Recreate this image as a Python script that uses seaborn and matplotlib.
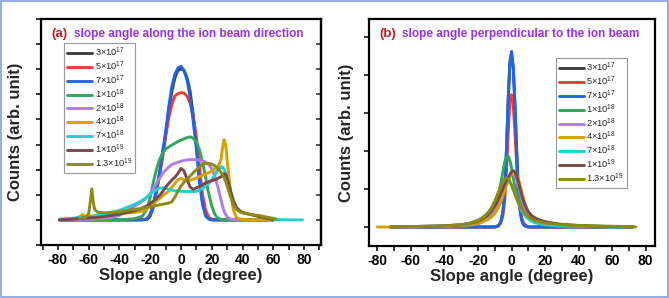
import numpy as np
import pandas as pd
import matplotlib
matplotlib.use("Agg")
import matplotlib.pyplot as plt
import seaborn as sns
from matplotlib.patches import Rectangle
from matplotlib.ticker import MultipleLocator

N = np.nan

labels = ['3×10$^{17}$', '5×10$^{17}$', '7×10$^{17}$', '1×10$^{18}$', '2×10$^{18}$',
          '4×10$^{18}$', '7×10$^{18}$', '1×10$^{19}$', '1.3×10$^{19}$']
colors = ['#404040', '#ee3b3b', '#1f66e0', '#33a65a', '#b07ce8',
          '#d9a000', '#22d0d0', '#7a4a4a', '#8d8b12']

# ---------------- panel (a): along the ion beam direction ----------------
xa = [-79, -70, -66, -64, -62,
      -60, -59, -58, -57, -56,
      -54, -50, -45, -40, -35,
      -30, -25, -22, -20, -18,
      -16, -14, -12, -10, -8,
      -6, -4, -2, 0, 2,
      4, 6, 8, 10, 12,
      14, 16, 18, 20, 22,
      24, 26, 27, 28, 29,
      30, 31, 32, 34, 36,
      38, 40, 45, 50, 55,
      60, 62, 70, 79]

a_3e17 = [0, 0, 0, 0, 0,  0, 0, 0, 0, 0,  0, 0, 0, 0, 0,
          0, 0.01, 0.02, 0.15, 0.5,  1.1, 1.8, 2.6, 3.4, 4.3,
          5.1, 5.65, 5.95, 6.02, 5.95,  5.65, 5.1, 4.15, 3.0, 1.7,
          0.7, 0.2, 0.05, 0, 0,  0, 0, 0, 0, 0,  0, 0, 0, 0, 0,
          0, 0, 0, 0, 0,  0, N, N, N]
a_5e17 = [0, 0, 0, 0, 0,  0, 0, 0, 0, 0,  0, 0, 0, 0, 0,
          0, 0.01, 0.05, 0.25, 0.6,  1.2, 1.75, 2.45, 3.3, 4.05,
          4.6, 4.93, 5.03, 5.07, 5.05,  4.92, 4.65, 4.1, 3.3, 2.15,
          1.0, 0.4, 0.1, 0.03, 0,  0, 0, 0, 0, 0,  0, 0, 0, 0, 0,
          0, 0, 0, 0, 0,  0, N, N, N]
a_7e17 = [0, 0, 0, 0, 0,  0, 0, 0, 0, 0,  0, 0, 0, 0, 0,
          0, 0, 0.03, 0.2, 0.6,  1.2, 1.9, 2.7, 3.5, 4.5,
          5.3, 5.8, 6.05, 6.12, 5.95,  5.55, 4.85, 3.9, 2.8, 1.5,
          0.6, 0.15, 0.03, 0, 0,  0, 0, 0, 0, 0,  0, 0, 0, 0, 0,
          0, 0, 0, 0, 0,  0, N, N, N]
a_1e18 = [0, 0, 0, 0, 0,  0, 0, 0, 0, 0,  0, 0, 0, 0.01, 0.02,
          0.05, 0.15, 0.45, 0.9, 1.5,  2.0, 2.4, 2.65, 2.82, 2.9,
          2.98, 3.05, 3.12, 3.18, 3.23,  3.28, 3.31, 3.25, 3.1, 2.8,
          2.3, 1.7, 1.05, 0.55, 0.22,  0.07, 0.02, 0, 0, 0,  0, 0, 0, 0, 0,
          0, 0, 0, 0, 0,  0, N, N, N]
a_2e18 = [0, 0.01, 0.01, 0.02, 0.02,  0.03, 0.03, 0.03, 0.03, 0.04,
          0.05, 0.06, 0.1, 0.18, 0.35,  0.55, 0.75, 0.9, 1.05, 1.25,
          1.45, 1.65, 1.85, 1.98, 2.1,  2.2, 2.25, 2.3, 2.34, 2.37,
          2.39, 2.4, 2.4, 2.4, 2.38,  2.35, 2.3, 2.2, 2.05, 1.75,
          1.3, 0.8, 0.55, 0.35, 0.22,  0.12, 0.07, 0.04, 0.02, 0,
          0, 0, 0, 0, 0,  0, N, N, N]
a_4e18 = [N, 0.03, 0.12, 0.22, 0.12,  0.15, 0.15, 0.16, 0.16, 0.17,
          0.18, 0.2, 0.22, 0.25, 0.28,  0.3, 0.35, 0.45, 0.55, 0.65,
          0.75, 0.85, 0.95, 1.05, 1.15,  1.3, 1.45, 1.6, 1.65, 1.6,
          1.55, 1.58, 1.62, 1.67, 1.72,  1.78, 1.83, 1.88, 1.95, 2.03,
          2.12, 2.4, 2.9, 3.2, 3.0,  2.4, 1.8, 1.25, 0.4, 0.1,
          0.04, 0.02, 0, 0, 0,  0, N, N, N]
a_7e18 = [0.03, 0.07, 0.1, 0.11, 0.12,  0.13, 0.13, 0.14, 0.14, 0.15,
          0.17, 0.22, 0.3, 0.38, 0.5,  0.62, 0.78, 0.92, 1.02, 1.12,
          1.2, 1.27, 1.28, 1.25, 1.22,  1.18, 1.16, 1.15, 1.14, 1.13,
          1.13, 1.13, 1.13, 1.14, 1.18,  1.26, 1.36, 1.45, 1.6, 1.8,
          2.0, 2.12, 2.1, 2.03, 1.85,  1.62, 1.42, 1.2, 0.8, 0.5,
          0.35, 0.28, 0.22, 0.15, 0.09,  0.03, 0.01, 0, 0]
a_1e19 = [0, 0.03, 0.05, 0.06, 0.07,  0.08, 0.08, 0.09, 0.09, 0.09,
          0.1, 0.13, 0.18, 0.23, 0.3,  0.37, 0.48, 0.56, 0.65, 0.75,
          0.85, 0.97, 1.12, 1.3, 1.45,  1.58, 1.7, 1.85, 2.05, 1.95,
          1.6, 1.3, 1.22, 1.28, 1.33,  1.4, 1.47, 1.52, 1.56, 1.6,
          1.65, 1.72, 1.78, 1.84, 1.82,  1.65, 1.45, 1.2, 0.75, 0.5,
          0.38, 0.3, 0.22, 0.14, 0.08,  0.02, N, N, N]
a_13e19 = [N, N, 0.06, 0.08, 0.1,  0.25, 0.7, 1.24, 0.7, 0.4,
           0.3, 0.28, 0.3, 0.32, 0.38,  0.42, 0.47, 0.5, 0.52, 0.55,
           0.57, 0.6, 0.62, 0.65, 0.67,  0.72, 0.9, 1.15, 1.35, 1.5,
           1.63, 1.75, 1.88, 2.0, 2.1,  2.2, 2.25, 2.25, 2.22, 2.15,
           2.05, 1.9, 1.8, 1.68, 1.55,  1.35, 1.15, 0.95, 0.6, 0.42,
           0.33, 0.28, 0.22, 0.18, 0.12,  0.06, 0.03, N, N]

# ---------------- panel (b): perpendicular to the ion beam ----------------
xb = [-80, -72, -60, -50, -40,
      -30, -25, -20, -17, -14,
      -12, -10, -9, -8, -7,
      -6, -5, -4, -3, -2,
      -1, 0, 1, 2, 3,
      4, 5, 6, 7, 8,
      9, 10, 12, 14, 17,
      20, 25, 30, 40, 50,
      60, 72, 74]

b_3e17 = [N, 0, 0, 0, 0,  0, 0, 0, 0, 0,  0, 0, 0.01, 0.03, 0.08,
          0.2, 0.45, 1.0, 2.05, 3.35,  4.3, 4.55, 4.2, 3.25, 2.05,
          1.05, 0.5, 0.2, 0.08, 0.03,  0.01, 0, 0, 0, 0,  0, 0, 0, 0, 0,  0, 0, N]
b_5e17 = [N, 0, 0, 0, 0,  0, 0, 0, 0, 0,  0, 0.01, 0.02, 0.04, 0.08,
          0.16, 0.35, 0.75, 1.5, 2.5,  3.3, 3.48, 3.2, 2.5, 1.65,
          0.95, 0.5, 0.25, 0.12, 0.06,  0.03, 0.01, 0, 0, 0,  0, 0, 0, 0, 0,  0, 0, N]
b_7e17 = [N, 0, 0, 0, 0,  0, 0, 0, 0, 0,  0, 0, 0.01, 0.03, 0.08,
          0.2, 0.45, 1.05, 2.1, 3.4,  4.35, 4.62, 4.2, 3.2, 2.0,
          1.0, 0.45, 0.18, 0.07, 0.03,  0.01, 0, 0, 0, 0,  0, 0, 0, 0, 0,  0, 0, N]
b_1e18 = [N, 0, 0, 0, 0.01,  0.02, 0.04, 0.08, 0.15, 0.25,  0.38, 0.55, 0.65, 0.82, 1.0,
          1.25, 1.5, 1.72, 1.85, 1.87,  1.75, 1.55, 1.3, 1.05, 0.9,
          0.78, 0.68, 0.6, 0.52, 0.45,  0.38, 0.3, 0.22, 0.16, 0.1,
          0.06, 0.03, 0.02, 0.01, 0,  0, 0, N]
b_2e18 = [N, 0, 0, 0.01, 0.02,  0.04, 0.06, 0.1, 0.15, 0.22,  0.3, 0.42, 0.5, 0.6, 0.72,
          0.85, 0.98, 1.1, 1.2, 1.28,  1.34, 1.37, 1.38, 1.34, 1.25,
          1.1, 0.92, 0.75, 0.6, 0.48,  0.39, 0.32, 0.23, 0.17, 0.12,
          0.09, 0.06, 0.04, 0.02, 0.01,  0, 0, N]
b_4e18 = [0, 0, 0.01, 0.015, 0.02,  0.04, 0.06, 0.1, 0.14, 0.2,  0.26, 0.35, 0.42, 0.5, 0.6,
          0.72, 0.85, 0.98, 1.1, 1.22,  1.32, 1.38, 1.42, 1.42, 1.38,
          1.28, 1.12, 0.95, 0.78, 0.62,  0.5, 0.4, 0.28, 0.2, 0.14,
          0.1, 0.07, 0.05, 0.03, 0.02,  0.01, 0, N]
b_7e18 = [N, 0, 0.01, 0.02, 0.03,  0.06, 0.1, 0.18, 0.26, 0.38,  0.5, 0.65, 0.74, 0.84, 0.94,
          1.03, 1.1, 1.16, 1.19, 1.2,  1.17, 1.1, 1.0, 0.88, 0.75,
          0.63, 0.52, 0.43, 0.36, 0.3,  0.25, 0.21, 0.15, 0.11, 0.08,
          0.06, 0.04, 0.03, 0.02, 0.01,  0, 0, N]
b_1e19 = [N, 0, 0.01, 0.02, 0.03,  0.06, 0.09, 0.15, 0.22, 0.32,  0.42, 0.55, 0.63, 0.72, 0.82,
          0.92, 1.02, 1.12, 1.22, 1.3,  1.38, 1.45, 1.48, 1.45, 1.35,
          1.2, 1.02, 0.85, 0.7, 0.58,  0.48, 0.4, 0.3, 0.24, 0.18,
          0.14, 0.1, 0.07, 0.04, 0.02,  0.01, 0, N]
b_13e19 = [N, 0, 0.01, 0.02, 0.03,  0.06, 0.1, 0.17, 0.25, 0.37,  0.5, 0.68, 0.79, 0.9, 1.02,
           1.12, 1.2, 1.26, 1.29, 1.27,  1.2, 1.1, 0.98, 0.86, 0.75,
           0.65, 0.56, 0.48, 0.41, 0.35,  0.31, 0.27, 0.21, 0.17, 0.13,
           0.1, 0.08, 0.06, 0.04, 0.03,  0.02, 0.01, 0.0]

series_a = [a_3e17, a_5e17, a_7e17, a_1e18, a_2e18, a_4e18, a_7e18, a_1e19, a_13e19]
series_b = [b_3e17, b_5e17, b_7e17, b_1e18, b_2e18, b_4e18, b_7e18, b_1e19, b_13e19]


def long_frame(x, series):
    rows = []
    for lab, ys in zip(labels, series):
        assert len(ys) == len(x), (lab, len(ys), len(x))
        for xv, yv in zip(x, ys):
            rows.append((xv, yv, lab))
    df = pd.DataFrame(rows, columns=['angle', 'counts', 'dose'])
    return df.dropna()


df_a = long_frame(xa, series_a)
df_b = long_frame(xb, series_b)

sns.set_theme(style='white')
plt.rcParams['font.family'] = ['Liberation Sans', 'DejaVu Sans']
plt.rcParams['mathtext.default'] = 'regular'
plt.rcParams['axes.unicode_minus'] = False

fig = plt.figure(figsize=(6.69, 2.98), dpi=100)
ax_a = fig.add_axes([0.0613, 0.1779, 0.4185, 0.7581])
ax_b = fig.add_axes([0.5516, 0.1745, 0.4274, 0.7615])

palette = dict(zip(labels, colors))

panels = [
    (ax_a, df_a, (-91, 91), (-1, 8), range(-1, 9), '(a)',
     'slope angle along the ion beam direction', (0.082, 0.894), True, 6),
    (ax_b, df_b, (-85, 85.5), (-0.5, 5.47), range(0, 6), '(b)',
     'slope angle perpendicular to the ion beam', (0.653, 0.828), False, 4),
]

for ax, df, xl, yl, yt, tag, title, legpos, right_ticks, lpad in panels:
    sns.lineplot(data=df, x='angle', y='counts', hue='dose', hue_order=labels,
                 palette=palette, estimator=None, sort=True, lw=2.1, ax=ax,
                 legend=False)
    ax.set_xlim(*xl)
    ax.set_ylim(*yl)
    ax.xaxis.set_major_locator(MultipleLocator(20))
    ax.xaxis.set_minor_locator(MultipleLocator(10))
    ax.set_yticks(list(yt))
    ax.set_yticklabels([])
    for sp in ax.spines.values():
        sp.set_linewidth(1.6)
        sp.set_color('black')
        sp.set_visible(True)
    ax.tick_params(axis='x', which='both', direction='out', length=3.5, width=1.1,
                   bottom=True, top=False, labelsize=10, pad=2, colors='black')
    ax.tick_params(axis='y', which='both', direction='out', length=3.5, width=1.1,
                   left=True, right=False, colors='black')
    for lab in ax.get_xticklabels():
        lab.set_fontweight('bold')
    if right_ticks:
        sec = ax.secondary_yaxis('right')
        sec.set_yticks(list(yt))
        sec.tick_params(direction='in', length=3.5, width=1.1, labelright=False)
        sec.spines['right'].set_linewidth(1.6)
    ax.set_xlabel('Slope angle (degree)', fontsize=12, fontweight='bold', labelpad=1)
    ax.set_ylabel('Counts (arb. unit)', fontsize=12, fontweight='bold', labelpad=lpad)
    ax.text(0.036, 0.935, tag, transform=ax.transAxes, color='#c41e2a',
            fontsize=9.5, fontweight='bold', va='center', ha='left')
    ax.text(0.117, 0.935, title, transform=ax.transAxes, color='#9b30f0',
            fontsize=8.5, fontweight='bold', va='center', ha='left')
    leg = ax.legend(ax.lines[:9], labels, loc='upper left', bbox_to_anchor=legpos,
                    fontsize=6.7, frameon=True, fancybox=False, framealpha=1,
                    edgecolor='#999999', borderpad=0.3, handlelength=2.7,
                    handletextpad=0.3, labelspacing=0.06, borderaxespad=0)
    leg.get_frame().set_linewidth(0.8)

fig.patches.append(Rectangle((0.0015, 0.003), 0.997, 0.994, transform=fig.transFigure,
                             fill=False, edgecolor='#88a8e0', lw=1.3))

fig.savefig('out.png', dpi=100, facecolor='white')
